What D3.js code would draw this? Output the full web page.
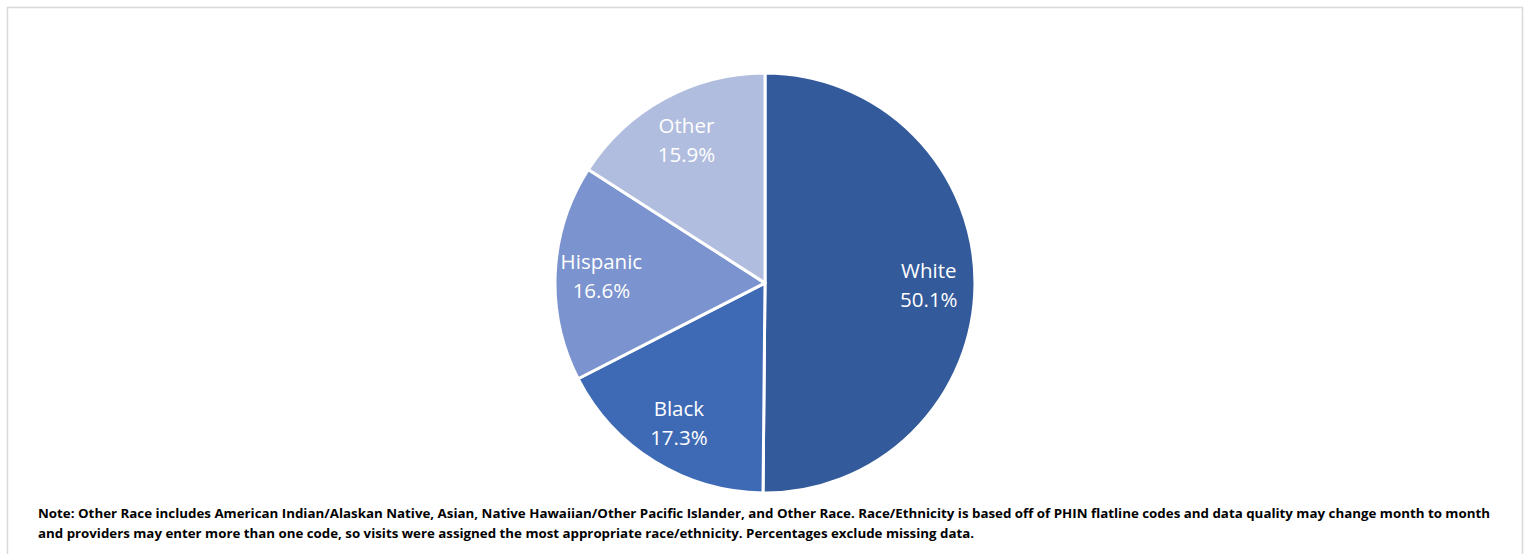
<!DOCTYPE html>
<html><head><meta charset="utf-8">
<script src="https://cdn.jsdelivr.net/npm/d3@7"></script>
<style>body{margin:0;background:#fff}svg{display:block}</style>
</head><body>
<script>
const categories = ["White","Black","Hispanic","Other"];
const values = [50.1,17.3,16.6,15.9];
const colors = ["#335A9A","#3E6AB5","#7B93CE","#B1BDDE"];
const noteLines = [
 "Note: Other Race includes American Indian/Alaskan Native, Asian, Native Hawaiian/Other Pacific Islander, and Other Race. Race/Ethnicity is based off of PHIN flatline codes and data quality may change month to month",
 "and providers may enter more than one code, so visits were assigned the most appropriate race/ethnicity. Percentages exclude missing data."
];
const noteWidths = [1452, 936];
const W=1532,H=554;
const svg=d3.select("body").append("svg").attr("width",W).attr("height",H);
svg.append("rect").attr("x",7.5).attr("y",7.5).attr("width",1515).attr("height",560).attr("fill","#fff").attr("stroke","#D9D9D9").attr("stroke-width",1.5);
const cx=765,cy=283,R=210;
const data=categories.map((c,i)=>({c,v:values[i],col:colors[i]}));
const pie=d3.pie().value(d=>d.v).sort(null);
const arc=d3.arc().innerRadius(0).outerRadius(R);
const labArc=d3.arc().innerRadius(R*0.78).outerRadius(R*0.78);
const g=svg.append("g").attr("transform",`translate(${cx},${cy})`);
const arcs=pie(data);
g.selectAll("path").data(arcs).join("path").attr("d",arc).attr("fill",d=>d.data.col).attr("stroke","#fff").attr("stroke-width",3).attr("stroke-linejoin","round");
const lab=g.selectAll("text.l").data(arcs).join("text").attr("class","l")
 .attr("transform",d=>`translate(${labArc.centroid(d)})`).attr("text-anchor","middle")
 .attr("font-family","'Open Sans', sans-serif").attr("font-size",20.5).attr("fill","#fff");
lab.append("tspan").attr("x",0).attr("dy","-0.3em").text(d=>d.data.c);
lab.append("tspan").attr("x",0).attr("dy","1.42em").text(d=>d.data.v.toFixed(1)+"%");
svg.selectAll("text.n").data(noteLines).join("text").attr("class","n")
 .attr("x",38).attr("y",(d,i)=>518+i*20).attr("font-family","'Open Sans',sans-serif")
 .attr("font-weight","bold").attr("font-size",12).attr("fill","#000")
 .attr("textLength",(d,i)=>noteWidths[i]).attr("lengthAdjust","spacingAndGlyphs").text(d=>d);
</script>
</body></html>
